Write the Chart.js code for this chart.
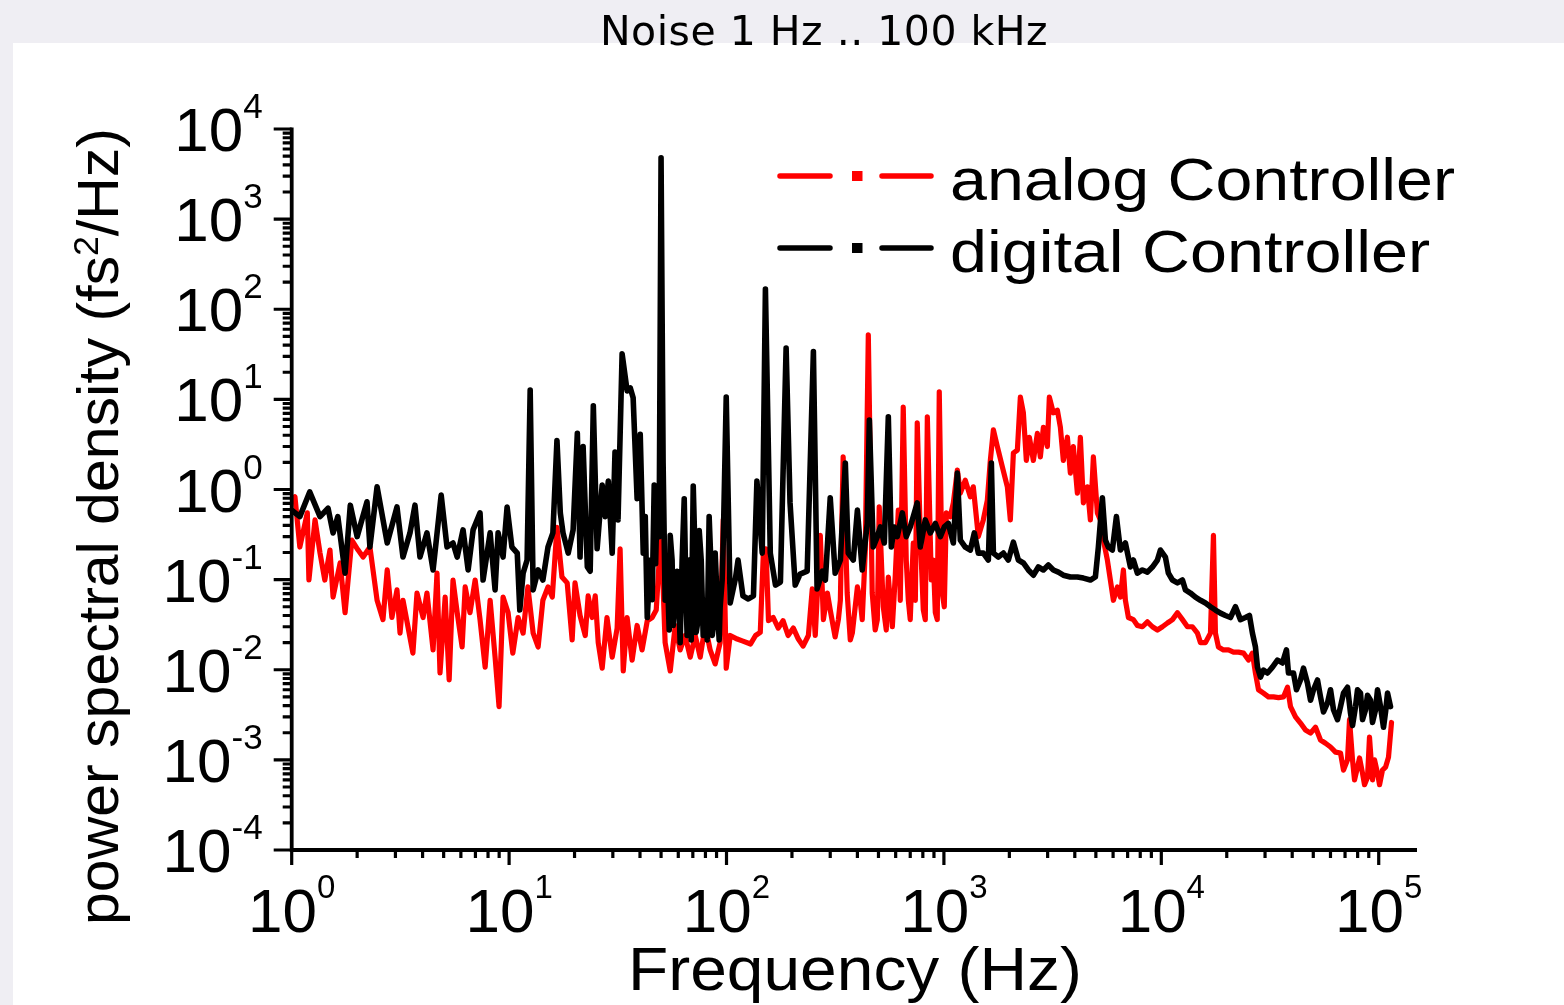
<!DOCTYPE html>
<html><head><meta charset="utf-8">
<script src="https://cdn.jsdelivr.net/npm/chart.js@4.4.1/dist/chart.umd.min.js"></script>
<style>
html,body{margin:0;padding:0;background:#efeef3;width:1564px;height:1005px;overflow:hidden;}
#title{position:absolute;left:0;top:9px;width:1648px;text-align:center;font-family:'DejaVu Sans';font-size:41px;line-height:44px;letter-spacing:0.5px;color:#000;z-index:2;white-space:pre;}
#box{position:absolute;left:13px;top:43px;width:1551px;height:962px;background:#fff;}
canvas{display:block;}
</style></head><body>
<div id="box"><canvas id="c" width="1551" height="962"></canvas></div>
<div id="title">Noise 1 Hz .. 100 kHz</div>
<script>
const chartTitle = 'Noise 1 Hz .. 100 kHz';
const seriesNames = ['analog Controller', 'digital Controller'];
const seriesColors = ['#ff0000', '#000000'];
const xTitle = 'Frequency (Hz)';
const yTitleParts = ['power spectral density (fs', '2', '/Hz)'];
const xTickExps = [0, 1, 2, 3, 4, 5];
const yTickExps = [-4, -3, -2, -1, 0, 1, 2, 3, 4];

const freqAnalog = [1.0,1.035,1.09,1.18,1.20,1.28,1.35,1.42,1.50,1.55,1.67,1.76,1.89,2.02,2.13,2.29,2.47,2.63,2.75,2.89,3.05,3.15,3.25,3.61,3.77,4.02,4.19,4.47,4.66,4.81,5.08,5.30,5.52,5.77,6.08,6.28,6.61,6.98,7.35,7.76,8.18,8.62,8.99,9.38,9.89,10.4,11.0,11.6,12.2,12.9,13.6,14.3,15.1,15.8,16.6,17.5,18.5,19.5,20.1,21.2,22.4,23.1,24.1,24.9,25.7,26.8,28.2,29.8,31.4,32.4,33.5,34.9,36.8,38.8,40.9,43.2,45.5,47.5,50.0,52.2,55.1,58.1,61.2,64.5,68.1,71.8,75.7,79.8,84.1,88.7,93.5,96.6,99.7,104,112,119,129,136,143,148,152,156,164,173,182,192,203,214,225,238,248,256,270,279,291,300,316,327,334,344,359,371,379,400,412,421,435,449,468,483,494,504,526,543,555,579,597,617,630,650,671,686,700,723,739,754,779,804,821,839,875,894,913,932,952,983,1004,1026,1070,1105,1153,1190,1254,1323,1365,1440,1518,1584,1635,1689,1761,1857,1958,2021,2087,2177,2247,2320,2394,2472,2579,2691,2777,2868,2991,3055,3187,3326,3433,3543,3698,3816,3939,4111,4243,4380,4570,4718,4870,5080,5245,5414,5648,5831,6020,6281,6483,6692,6836,7058,7440,7762,8185,8630,9100,9595,10120,10670,11250,11860,12510,13190,13900,14660,15140,15960,16830,17370,17740,18310,19310,20370,21480,22640,23880,25180,26250,27100,27990,29500,31110,32810,34590,36470,38050,39290,41420,43660,46040,48570,51200,53980,56920,60020,63290,66720,68870,71860,73400,75770,77390,79890,81610,84230,86050,88800,90700,93640,95650,98740,100900,104100,107500,110900,114500];
const psdAnalog = [0.76,0.83,0.23,0.55,0.099,0.46,0.197,0.099,0.213,0.064,0.153,0.043,0.275,0.213,0.178,0.23,0.059,0.036,0.128,0.038,0.077,0.0255,0.059,0.0153,0.071,0.038,0.071,0.0166,0.118,0.0092,0.064,0.0077,0.099,0.043,0.0179,0.083,0.043,0.099,0.036,0.0107,0.059,0.0138,0.0039,0.064,0.043,0.0153,0.038,0.0255,0.083,0.0255,0.0179,0.059,0.083,0.064,0.38,0.107,0.092,0.0214,0.092,0.040,0.024,0.066,0.038,0.066,0.020,0.0104,0.038,0.0138,0.029,0.22,0.0097,0.038,0.0128,0.031,0.0166,0.035,0.038,0.046,0.36,0.020,0.0097,0.031,0.0166,0.024,0.0138,0.024,0.0138,0.031,0.0166,0.0116,0.020,0.46,0.0104,0.024,0.0219,0.0208,0.0193,0.024,0.026,0.22,0.22,0.035,0.038,0.029,0.035,0.024,0.029,0.0219,0.0183,0.024,0.079,0.024,0.31,0.036,0.071,0.046,0.0231,0.036,0.059,2.3,0.071,0.0214,0.0255,0.083,0.059,0.036,0.213,52,0.071,0.0276,0.036,0.64,0.050,0.0276,0.107,0.030,0.107,0.59,0.059,8.2,0.165,0.059,0.036,0.255,0.059,5.5,0.30,0.046,0.036,6.4,0.099,0.165,0.043,0.036,12.1,0.071,0.050,0.55,0.50,0.71,1.64,0.91,1.27,0.83,1.07,0.30,0.46,0.76,2.1,4.6,3.0,1.78,1.07,0.46,2.54,2.74,10.6,7.1,2.1,3.8,2.1,4.2,2.3,4.9,3.0,10.6,7.1,7.6,4.9,2.1,3.8,1.52,3.0,0.91,3.8,0.71,1.07,0.46,2.3,0.55,0.46,0.275,0.165,0.099,0.059,0.083,0.064,0.128,0.059,0.038,0.036,0.031,0.030,0.034,0.030,0.0276,0.030,0.033,0.036,0.043,0.036,0.030,0.030,0.0255,0.020,0.020,0.0255,0.31,0.0255,0.0179,0.0166,0.0166,0.0157,0.0157,0.0153,0.0128,0.0153,0.0092,0.0060,0.0055,0.0050,0.0050,0.0049,0.0050,0.0064,0.0039,0.0030,0.00256,0.00214,0.00198,0.0023,0.00166,0.00153,0.00139,0.00122,0.00119,0.00077,0.00100,0.0028,0.00100,0.00060,0.00083,0.00105,0.00071,0.00053,0.00064,0.00179,0.00060,0.00100,0.00071,0.00053,0.00077,0.00083,0.00107,0.0026];

const freqDigital = [1.0,1.09,1.21,1.35,1.47,1.55,1.63,1.76,1.86,2.00,2.22,2.29,2.47,2.75,3.05,3.25,3.50,3.69,3.89,4.19,4.47,4.87,5.18,5.52,5.77,6.14,6.48,6.83,7.35,7.59,8.18,8.62,8.90,9.38,9.79,10.3,10.9,11.2,11.6,12.1,12.5,12.9,13.6,14.3,15.1,15.9,16.6,17.2,17.7,18.7,19.7,20.6,21.2,21.9,22.9,23.6,24.4,25.4,26.8,27.7,28.6,29.8,30.7,31.7,33.1,34.9,36.1,37.2,38.8,40.1,41.4,42.3,43.2,44.6,45.5,46.5,47.2,48.0,49.0,50.0,51.1,52.2,53.4,54.5,55.1,56.2,56.9,58.1,59.3,60.6,61.2,62.5,63.9,65.2,65.9,67.3,68.8,70.3,71.8,72.5,74.1,74.9,76.5,78.1,79.8,81.5,83.2,85.0,86.0,87.8,88.7,90.6,92.5,93.5,95.5,96.6,99.7,104,110,113,119,126,133,138,146,151,159,168,177,188,196,207,218,235,251,261,276,285,300,316,334,352,363,383,400,421,444,454,473,494,510,532,555,573,591,610,644,671,700,754,779,821,866,913,963,1004,1048,1105,1153,1190,1254,1323,1380,1440,1518,1601,1653,1689,1780,1877,1979,2087,2200,2320,2446,2579,2719,2868,3023,3187,3361,3543,3816,4111,4380,4718,4975,5135,5356,5530,5708,5955,6215,6483,6836,7208,7440,7762,8185,8630,9100,9595,9906,10440,10780,11250,11860,12510,12910,13610,14350,15140,15960,16830,17740,18710,19720,20800,21930,23120,24380,25430,26250,27100,27680,28580,29500,30780,32450,34220,36080,37640,38450,40550,41850,43660,45080,47030,48570,50120,52290,53980,55720,58140,60020,61940,64630,66720,68870,71860,74180,75770,78210,79890,82460,84230,86970,88800,91680,93640,96670,98740,101900,105200,107500,109800,113300];
const psdDigital = [0.59,0.50,0.94,0.50,0.62,0.33,0.50,0.118,0.67,0.30,0.73,0.23,1.07,0.255,0.64,0.178,0.33,0.67,0.178,0.33,0.128,0.87,0.23,0.255,0.178,0.356,0.128,0.356,0.55,0.099,0.33,0.077,0.33,0.178,0.64,0.23,0.197,0.046,0.118,0.165,12.7,0.077,0.128,0.099,0.23,0.33,3.5,0.55,0.33,0.197,0.356,4.2,0.178,3.0,0.138,0.124,8.5,0.22,1.12,0.50,1.24,0.197,2.6,0.46,32,12.4,13.4,10.4,0.79,4.1,0.197,0.50,0.038,0.165,0.060,1.12,0.15,0.79,0.30,4800,1.97,0.059,0.124,0.0276,0.31,0.165,0.031,0.059,0.124,0.046,0.020,0.165,0.79,0.059,0.024,0.165,0.0214,1.09,0.165,0.026,0.036,0.35,0.165,0.024,0.059,0.0214,0.50,0.128,0.024,0.036,0.197,0.059,0.0214,0.050,0.099,0.26,10.6,0.055,0.104,0.165,0.066,0.061,0.066,1.24,0.197,168,0.197,0.087,0.094,37,0.71,0.087,0.115,0.124,34,0.079,0.124,0.099,0.81,0.118,0.165,1.97,0.197,0.165,0.59,0.128,0.42,5.9,0.23,0.30,0.384,0.255,6.4,0.23,0.384,0.30,0.55,0.30,0.384,0.71,0.23,0.46,0.33,0.42,0.30,0.384,0.42,0.255,1.52,0.275,0.23,0.213,0.33,0.197,0.197,0.165,1.97,0.197,0.178,0.197,0.165,0.26,0.165,0.153,0.128,0.112,0.138,0.128,0.145,0.128,0.121,0.112,0.107,0.107,0.104,0.099,0.107,0.23,0.81,0.275,0.23,0.213,0.50,0.213,0.255,0.138,0.165,0.118,0.128,0.121,0.138,0.165,0.213,0.178,0.118,0.099,0.092,0.099,0.077,0.071,0.064,0.059,0.055,0.050,0.046,0.0425,0.040,0.038,0.050,0.036,0.038,0.040,0.0255,0.0179,0.0107,0.0083,0.0099,0.0092,0.0107,0.0128,0.0119,0.0166,0.0092,0.0092,0.0060,0.0077,0.0104,0.0071,0.0046,0.0060,0.0077,0.0050,0.0034,0.0043,0.0060,0.0036,0.0028,0.0039,0.0055,0.0064,0.0033,0.0024,0.0039,0.0060,0.0055,0.0028,0.0036,0.0052,0.0046,0.0026,0.0036,0.0060,0.0039,0.0023,0.0034,0.0055,0.0039];

const FONT = '"Liberation Sans", Arial, sans-serif';

function textW(ctx, t, size) { ctx.font = size + 'px ' + FONT; return ctx.measureText(t).width; }
function drawT(ctx, t, x, y, size, sx) {
  ctx.save(); ctx.font = size + 'px ' + FONT; ctx.textAlign = 'left'; ctx.textBaseline = 'alphabetic';
  ctx.translate(x, y); ctx.scale(sx, 1); ctx.fillText(t, 0, 0); ctx.restore();
}

const axesPlugin = {
  id: 'customAxes',
  afterDatasetsDraw(chart) {
    const ctx = chart.ctx, a = chart.chartArea, xs = chart.scales.x, ys = chart.scales.y;
    ctx.save();
    ctx.strokeStyle = '#000'; ctx.fillStyle = '#000';
    ctx.lineWidth = 3.8; ctx.lineCap = 'butt';
    ctx.beginPath();
    ctx.moveTo(a.left, ys.getPixelForValue(1e4) - 1.5); ctx.lineTo(a.left, a.bottom + 1.9);
    ctx.moveTo(a.left - 1.9, a.bottom); ctx.lineTo(a.right, a.bottom);
    ctx.stroke();
    ctx.lineWidth = 3.2;
    ctx.beginPath();
    for (let e = -4; e <= 4; e++) {
      const py = ys.getPixelForValue(Math.pow(10, e));
      ctx.moveTo(a.left - 18, py); ctx.lineTo(a.left, py);
      if (e < 4) for (let m = 2; m <= 9; m++) {
        const pm = ys.getPixelForValue(m * Math.pow(10, e));
        ctx.moveTo(a.left - 9, pm); ctx.lineTo(a.left, pm);
      }
    }
    for (let e = 0; e <= 5; e++) {
      const px = xs.getPixelForValue(Math.pow(10, e));
      ctx.moveTo(px, a.bottom); ctx.lineTo(px, a.bottom + 15);
      if (e < 5) for (let m = 2; m <= 9; m++) {
        const pm = xs.getPixelForValue(m * Math.pow(10, e));
        ctx.moveTo(pm, a.bottom); ctx.lineTo(pm, a.bottom + 8);
      }
    }
    ctx.stroke();

    const baseSize = 62, supSize = 35;
    yTickExps.forEach(e => {
      const py = ys.getPixelForValue(Math.pow(10, e));
      const sup = String(e);
      const w1 = textW(ctx, '10', baseSize), w2 = textW(ctx, sup, supSize);
      const right = a.left - 29;
      drawT(ctx, '10', right - w2 - w1, py + 22, baseSize, 1.0);
      drawT(ctx, sup, right - w2, py - 11, supSize, 1.0);
    });
    xTickExps.forEach(e => {
      const px = xs.getPixelForValue(Math.pow(10, e));
      const sup = String(e);
      const w1 = textW(ctx, '10', baseSize), w2 = textW(ctx, sup, 33);
      const x0 = px - (w1 + w2) / 2;
      drawT(ctx, '10', x0, a.bottom + 82, baseSize, 1.0);
      drawT(ctx, sup, x0 + w1, a.bottom + 48, 33, 1.0);
    });

    {
      const size = 62, target = 454;
      const w = textW(ctx, xTitle, size); const sx = target / w;
      drawT(ctx, xTitle, 842 - target / 2, 947, size, sx);
    }
    {
      const size = 58, supS = 35, target = 797;
      const w1 = textW(ctx, yTitleParts[0], size), w2 = textW(ctx, yTitleParts[1], supS), w3 = textW(ctx, yTitleParts[2], size);
      const tot = w1 + w2 + w3, sx = target / tot;
      ctx.save();
      ctx.translate(105, 483.5); ctx.rotate(-Math.PI / 2); ctx.scale(sx, 1);
      const x0 = -tot / 2;
      drawT(ctx, yTitleParts[0], x0, 0, size, 1);
      drawT(ctx, yTitleParts[1], x0 + w1, -20, supS, 1);
      drawT(ctx, yTitleParts[2], x0 + w1 + w2, 0, size, 1);
      ctx.restore();
    }
    const legendRows = [133, 205], textBase = [157, 229], textTargets = [505, 480];
    seriesNames.forEach((name, i) => {
      const ly = legendRows[i];
      ctx.strokeStyle = seriesColors[i]; ctx.fillStyle = seriesColors[i];
      ctx.lineWidth = 5.5; ctx.lineCap = 'round';
      ctx.beginPath();
      ctx.moveTo(767, ly); ctx.lineTo(817, ly);
      ctx.moveTo(869, ly); ctx.lineTo(918, ly);
      ctx.stroke();
      ctx.fillRect(839, ly - 5, 10.5, 10);
      ctx.fillStyle = '#000';
      const size = 60; const w = textW(ctx, name, size); const sx = textTargets[i] / w;
      drawT(ctx, name, 937, textBase[i], size, sx);
    });
    ctx.restore();
  }
};

function pts(f, v) { return f.map((x, i) => ({ x: x, y: v[i] })); }

new Chart(document.getElementById('c'), {
  type: 'line',
  data: {
    datasets: [
      { label: seriesNames[0], data: pts(freqAnalog, psdAnalog), borderColor: seriesColors[0], borderWidth: 5.2, pointRadius: 0, tension: 0, order: 2, borderJoinStyle: 'round', borderCapStyle: 'round' },
      { label: seriesNames[1], data: pts(freqDigital, psdDigital), borderColor: seriesColors[1], borderWidth: 5.6, pointRadius: 0, tension: 0, order: 1, borderJoinStyle: 'round', borderCapStyle: 'round' }
    ]
  },
  options: {
    responsive: false, animation: false, devicePixelRatio: 1,
    layout: { padding: { left: 278.7, top: 86, right: 147, bottom: 155 } },
    scales: {
      x: { type: 'logarithmic', min: 1, max: 150000, display: false },
      y: { type: 'logarithmic', min: 1e-4, max: 1e4, display: false }
    },
    plugins: { legend: { display: false }, tooltip: { enabled: false }, title: { display: false } }
  },
  plugins: [axesPlugin]
});
</script>
</body></html>
